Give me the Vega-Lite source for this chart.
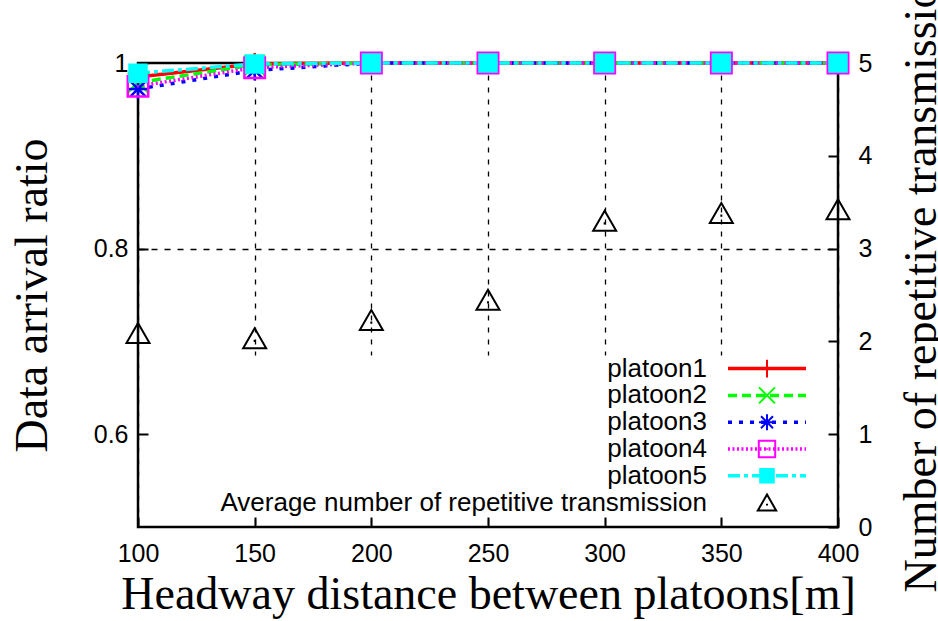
{
  "$schema": "https://vega.github.io/schema/vega-lite/v6.json",
  "width": 700,
  "height": 464,
  "autosize": "none",
  "padding": {"left": 138, "top": 63, "right": 100, "bottom": 94},
  "background": "white",
  "config": {
    "view": {"stroke": "black", "strokeWidth": 2.5},
    "axis": {
      "domain": false,
      "labelFont": "Liberation Sans",
      "labelFontSize": 25,
      "labelColor": "black",
      "labelFlush": false,
      "titleFont": "Liberation Serif",
      "titleFontSize": 46,
      "titleFontWeight": "normal",
      "titleColor": "black",
      "tickColor": "black",
      "tickWidth": 2,
      "tickSize": -10
    },
    "legend": {
      "labelFont": "Liberation Sans",
      "labelFontSize": 26,
      "labelColor": "black",
      "labelLimit": 1000,
      "gridAlign": "all"
    }
  },
  "datasets": {
    "platoons": [
      {"series": "platoon1", "x": 100, "y": 0.985},
      {"series": "platoon1", "x": 150, "y": 0.999},
      {"series": "platoon1", "x": 200, "y": 1.0},
      {"series": "platoon1", "x": 250, "y": 1.0},
      {"series": "platoon1", "x": 300, "y": 1.0},
      {"series": "platoon1", "x": 350, "y": 1.0},
      {"series": "platoon1", "x": 400, "y": 1.0},
      {"series": "platoon2", "x": 100, "y": 0.979},
      {"series": "platoon2", "x": 150, "y": 0.998},
      {"series": "platoon2", "x": 200, "y": 1.0},
      {"series": "platoon2", "x": 250, "y": 1.0},
      {"series": "platoon2", "x": 300, "y": 1.0},
      {"series": "platoon2", "x": 350, "y": 1.0},
      {"series": "platoon2", "x": 400, "y": 1.0},
      {"series": "platoon3", "x": 100, "y": 0.972},
      {"series": "platoon3", "x": 150, "y": 0.992},
      {"series": "platoon3", "x": 200, "y": 1.0},
      {"series": "platoon3", "x": 250, "y": 1.0},
      {"series": "platoon3", "x": 300, "y": 1.0},
      {"series": "platoon3", "x": 350, "y": 1.0},
      {"series": "platoon3", "x": 400, "y": 1.0},
      {"series": "platoon4", "x": 100, "y": 0.975},
      {"series": "platoon4", "x": 150, "y": 0.995},
      {"series": "platoon4", "x": 200, "y": 1.0},
      {"series": "platoon4", "x": 250, "y": 1.0},
      {"series": "platoon4", "x": 300, "y": 1.0},
      {"series": "platoon4", "x": 350, "y": 1.0},
      {"series": "platoon4", "x": 400, "y": 1.0},
      {"series": "platoon5", "x": 100, "y": 0.989},
      {"series": "platoon5", "x": 150, "y": 0.999},
      {"series": "platoon5", "x": 200, "y": 1.0},
      {"series": "platoon5", "x": 250, "y": 1.0},
      {"series": "platoon5", "x": 300, "y": 1.0},
      {"series": "platoon5", "x": 350, "y": 1.0},
      {"series": "platoon5", "x": 400, "y": 1.0}
    ],
    "avg": [
      {"series": "Average number of repetitive transmission", "x": 100, "value": 2.09},
      {"series": "Average number of repetitive transmission", "x": 150, "value": 2.035},
      {"series": "Average number of repetitive transmission", "x": 200, "value": 2.23},
      {"series": "Average number of repetitive transmission", "x": 250, "value": 2.45},
      {"series": "Average number of repetitive transmission", "x": 300, "value": 3.3},
      {"series": "Average number of repetitive transmission", "x": 350, "value": 3.383},
      {"series": "Average number of repetitive transmission", "x": 400, "value": 3.424}
    ]
  },
  "encoding": {
    "x": {
      "field": "x",
      "type": "quantitative",
      "scale": {"domain": [100, 400], "nice": false, "zero": false},
      "axis": {
        "values": [100, 150, 200, 250, 300, 350, 400],
        "title": "Headway distance between platoons[m]",
        "labelPadding": 24,
        "titlePadding": 6,
        "grid": true,
        "gridColor": "black",
        "gridDash": [5, 7],
        "gridWidth": 1.3,
        "gridOpacity": 1
      }
    }
  },
  "layer": [
    {
      "data": {"name": "avg"},
      "mark": {"type": "point", "size": 100, "strokeWidth": 2, "opacity": 1},
      "encoding": {
        "y": {
          "field": "value",
          "type": "quantitative",
          "scale": {"domain": [0, 5], "nice": false, "zero": false},
          "axis": {
            "orient": "right",
            "values": [0, 1, 2, 3, 4, 5],
            "format": "d",
            "title": "Number of repetitive transmission",
            "titleAngle": 270,
            "titleBaseline": "alphabetic",
            "titleAlign": "center",
            "titleX": 97,
            "titleY": 214,
            "labelPadding": 30,
            "grid": false
          }
        },
        "shape": {
          "field": "series",
          "type": "nominal",
          "scale": {
            "domain": ["platoon1", "platoon2", "platoon3", "platoon4", "platoon5", "Average number of repetitive transmission"],
            "range": [
              "M-2.2,0H2.2M0,-2.2V2.2",
              "M-2,-2L2,2M-2,2L2,-2",
              "M-2,0H2M0,-2V2M-1.5,-1.5L1.5,1.5M-1.5,1.5L1.5,-1.5",
              "M-2.05,-2.05H2.05V2.05H-2.05ZM-0.17,0H0.17",
              "M-1.7,-1.7H1.7V1.7H-1.7Z",
              "M0,-2L2.3,2L-2.3,2ZM0,0.3V0.75"
            ]
          },
          "legend": {
            "orient": "none",
            "legendX": 58,
            "legendY": 292.6,
            "direction": "vertical",
            "title": null,
            "labelAlign": "right",
            "labelOffset": -73,
            "symbolOffset": 558,
            "fillColor": "white",
            "padding": 0,
            "rowPadding": 0.8,
            "gridAlign": "all",
            "symbolSize": 64,
            "symbolStrokeWidth": 2
          }
        },
        "stroke": {
          "field": "series",
          "type": "nominal",
          "scale": {
            "domain": ["platoon1", "platoon2", "platoon3", "platoon4", "platoon5", "Average number of repetitive transmission"],
            "range": ["#ff0000", "#00ff00", "#0000ff", "#ff00ff", "#00ffff", "#000000"]
          }
        },
        "fill": {
          "field": "series",
          "type": "nominal",
          "scale": {
            "domain": ["platoon1", "platoon2", "platoon3", "platoon4", "platoon5", "Average number of repetitive transmission"],
            "range": ["transparent", "transparent", "transparent", "transparent", "#00ffff", "transparent"]
          }
        }
      }
    },
    {
      "data": {"name": "platoons"},
      "encoding": {
        "y": {
          "field": "y",
          "type": "quantitative",
          "scale": {"domain": [0.5, 1], "nice": false, "zero": false},
          "axis": {
            "orient": "left",
            "values": [0.6, 0.8, 1],
            "format": "~g",
            "title": "Data arrival ratio",
            "titleBaseline": "alphabetic",
            "titleAlign": "center",
            "titleX": -92,
            "titleY": 232,
            "labelPadding": 20,
            "grid": true,
            "gridColor": "black",
            "gridDash": [6, 7],
            "gridWidth": 1.3,
            "gridOpacity": {"condition": {"test": "datum.value === 0.8", "value": 1}, "value": 0}
          }
        }
      },
      "layer": [
        {
          "mark": {"type": "line", "strokeWidth": 3.5},
          "encoding": {
            "color": {
              "field": "series",
              "type": "nominal",
              "scale": {
                "domain": ["platoon1", "platoon2", "platoon3", "platoon4", "platoon5"],
                "range": ["#ff0000", "#00ff00", "#0000ff", "#ff00ff", "#00ffff"]
              },
              "legend": {
                "orient": "none",
                "legendX": 58,
                "legendY": 292.6,
                "direction": "vertical",
                "title": null,
                "symbolType": "M-8.667,0H8.667",
                "symbolSize": 81,
                "symbolStrokeWidth": 3.5,
                "symbolOffset": 558,
                "labelAlign": "right",
                "labelOffset": -73,
                "labelColor": "transparent",
                "padding": 0,
                "rowPadding": 0.8,
                "gridAlign": "all"
              }
            },
            "strokeDash": {
              "field": "series",
              "type": "nominal",
              "scale": {
                "domain": ["platoon1", "platoon2", "platoon3", "platoon4", "platoon5"],
                "range": [[1, 0], [9, 5], [4, 7], [2, 2.5], [12, 4, 4, 4]]
              }
            }
          }
        },
        {
          "mark": {"type": "point", "size": 100, "strokeWidth": 2.5, "opacity": 1},
          "encoding": {
            "shape": {
              "field": "series",
              "type": "nominal",
              "scale": {
                "domain": ["platoon1", "platoon2", "platoon3", "platoon4", "platoon5", "Average number of repetitive transmission"],
                "range": [
                  "M-2.2,0H2.2M0,-2.2V2.2",
                  "M-2,-2L2,2M-2,2L2,-2",
                  "M-2,0H2M0,-2V2M-1.5,-1.5L1.5,1.5M-1.5,1.5L1.5,-1.5",
                  "M-2.05,-2.05H2.05V2.05H-2.05ZM-0.17,0H0.17",
                  "M-1.7,-1.7H1.7V1.7H-1.7Z",
                  "M0,-2L2.3,2L-2.3,2ZM0,0.3V0.75"
                ]
              }
            },
            "stroke": {
              "field": "series",
              "type": "nominal",
              "scale": {
                "domain": ["platoon1", "platoon2", "platoon3", "platoon4", "platoon5", "Average number of repetitive transmission"],
                "range": ["#ff0000", "#00ff00", "#0000ff", "#ff00ff", "#00ffff", "#000000"]
              }
            },
            "fill": {
              "field": "series",
              "type": "nominal",
              "scale": {
                "domain": ["platoon1", "platoon2", "platoon3", "platoon4", "platoon5", "Average number of repetitive transmission"],
                "range": ["transparent", "transparent", "transparent", "transparent", "#00ffff", "transparent"]
              }
            }
          }
        }
      ]
    }
  ],
  "resolve": {"scale": {"y": "independent"}}
}
